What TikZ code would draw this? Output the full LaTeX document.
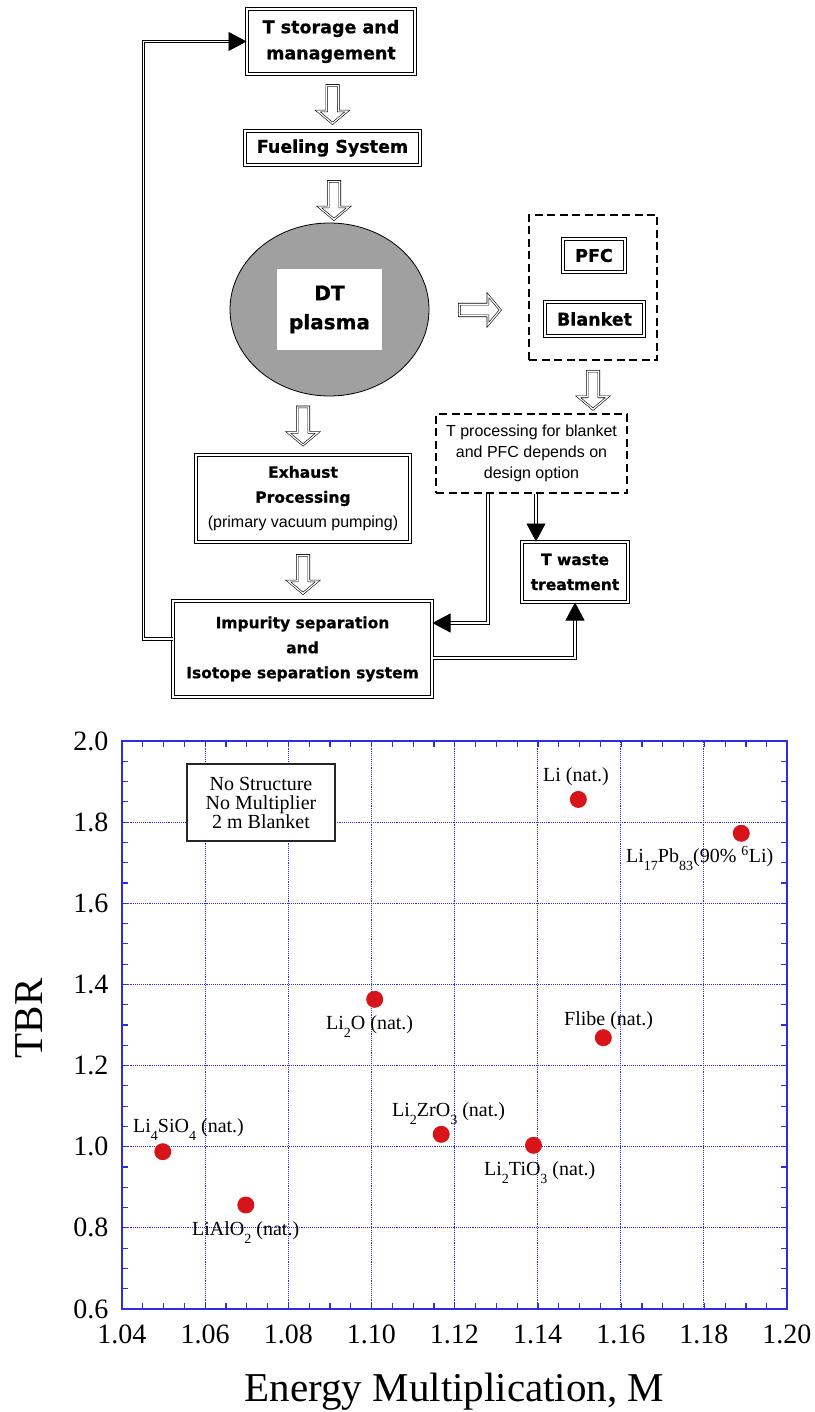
\documentclass[tikz,border=0pt]{standalone}
\usepackage{fontspec}
\setmainfont{Liberation Serif}
\newfontfamily\boxfont{DejaVu Sans}[BoldFeatures={FakeBold=0.8}]
\newfontfamily\armfont{Liberation Sans}
\usetikzlibrary{shapes.geometric,shapes.arrows,arrows.meta,calc,positioning}

\tikzstyle{block} = [draw, double, line width=1pt, double distance=2pt, align=center, inner sep=0pt, font=\boxfont\bfseries\fontsize{17.5}{26}\selectfont]
\tikzstyle{smallblock} = [block, font=\boxfont\bfseries\fontsize{15.5}{25}\selectfont]
\tikzstyle{dashblock} = [draw, dash pattern=on 8pt off 4.5pt, line width=1.6pt, align=center, inner sep=0pt]
\tikzstyle{hollow} = [single arrow, draw, double, line width=0.6pt, double distance=1.2pt, fill=white, inner sep=5.5pt, minimum height=38pt, single arrow head extend=9pt, single arrow tip angle=100]
\tikzstyle{link} = [draw, double, line width=0.8pt, double distance=1.8pt]
\tikzstyle{tip} = [-{Triangle[length=18pt,width=19pt]}]
\tikzstyle{gridline} = [draw=gridblue, densely dotted, line width=0.9pt]
\tikzstyle{axisline} = [draw=gridblue, line width=1.8pt]
\tikzstyle{tick} = [draw=gridblue, line width=1.2pt]
\tikzstyle{ticklabel} = [inner sep=0pt, font=\fontsize{28}{32}\selectfont]
\tikzstyle{axistitle} = [inner sep=0pt, font=\fontsize{41}{46}\selectfont]
\tikzstyle{dot} = [circle, fill=dotred, minimum size=17pt, inner sep=0pt]
\tikzstyle{dotlabel} = [inner sep=0pt, anchor=base west, font=\fontsize{20}{24}\selectfont]
\definecolor{plasmagray}{RGB}{160,160,160}
\definecolor{gridblue}{RGB}{45,45,230}
\definecolor{dotred}{RGB}{215,20,25}
\newcommand{\lsub}[1]{\raisebox{-8pt}{\fontsize{14}{14}\selectfont #1}}

\begin{document}
\begin{tikzpicture}[x=1pt, y=-1pt]
	\useasboundingbox (0,0) rectangle (814,1412);

	% tritium loop
	\node [block, minimum width=168pt, minimum height=65pt] (tstore) at (331,41.5) {T storage and\\management};
	\node [block, minimum width=175pt, minimum height=34pt] (fuel) at (332.5,148) {Fueling System};
	\node [ellipse, draw, fill=plasmagray, line width=0.8pt, minimum width=199pt, minimum height=173pt] (plasma) at (329.5,309.5) {};
	\node [fill=white, minimum width=105pt, minimum height=80pt, align=center, font=\boxfont\bfseries\fontsize{20}{29}\selectfont] (dt) at (plasma.center) {DT\\plasma};
	\node [smallblock, minimum width=214pt, minimum height=87pt] (exhaust) at (303,498.5) {Exhaust\\Processing\\{\armfont\mdseries\fontsize{16}{23}\selectfont (primary vacuum pumping)}};
	\node [smallblock, minimum width=259pt, minimum height=96pt] (impurity) at (302.5,649) {Impurity separation\\and\\Isotope separation system};

	% components
	\node [dashblock, minimum width=128pt, minimum height=145pt] (comp) at (593,287.5) {};
	\node [block, minimum width=62pt, minimum height=33pt] (pfc) at (594,255.5) {PFC};
	\node [block, minimum width=99pt, minimum height=34pt] (blanket) at (594.5,319) {Blanket};
	\node [dashblock, line width=1.4pt, minimum width=191pt, minimum height=79pt, font=\armfont\fontsize{16}{20.7}\selectfont] (tproc) at (531.5,453.5) {T processing for blanket\\and PFC depends on\\design option};
	\node [smallblock, minimum width=106pt, minimum height=60pt] (twaste) at (575,572) {T waste\\treatment};

	% hollow arrows
	\node [hollow, rotate=-90] (a1) at ($(fuel.north)+(0,-28.5)$) {};
	\node [hollow, rotate=-90] (a2) at ($(fuel.south)+(1.5,32.5)$) {};
	\node [hollow, rotate=-90] (a3) at ($(exhaust.north)+(0,-31)$) {};
	\node [hollow, rotate=-90] (a4) at ($(exhaust.south)+(0,29.5)$) {};
	\node [hollow, minimum height=41pt] (a5) at ($(plasma.east)+(48,0.5)$) {};
	\node [hollow, rotate=-90] (a6) at ($(comp.south)+(0,27)$) {};

	% connectors
	\draw [link, tip] ([yshift=10pt]impurity.west) -- ++(-29,0) |- (tstore.west);
	\draw [link, tip] ([xshift=-43.5pt]tproc.south) |- ([yshift=26pt]impurity.east);
	\coordinate (tp) at ([xshift=4.5pt]tproc.south);
	\draw [link, tip] (tp) -- (tp |- twaste.north);
	\draw [link, tip] ([yshift=-9pt]impurity.east) -| (twaste.south);

	% TBR plot
	\begin{scope}[shift={(-4200.5pt,-1552.4pt)}, x=4156.25pt, y=405.7pt]
		\foreach \gx in {1.06,1.08,1.10,1.12,1.14,1.16,1.18}
			\draw [gridline] (\gx,0.6) -- (\gx,2.0);
		\foreach \gy in {0.8,1.0,1.2,1.4,1.6,1.8}
			\draw [gridline] (1.04,\gy) -- (1.20,\gy);
		\foreach \i in {1,...,31} {
			\draw [tick] (1.04+0.005*\i,0.6) -- ++(0,6pt);
			\draw [tick] (1.04+0.005*\i,2.0) -- ++(0,-6pt);
		}
		\foreach \i in {1,...,27} {
			\draw [tick] (1.04,0.6+0.05*\i) -- ++(6pt,0);
			\draw [tick] (1.20,0.6+0.05*\i) -- ++(-6pt,0);
		}
		\draw [axisline] (1.04,0.6) rectangle (1.20,2.0);

		\foreach \yl [count=\k] in {0.6,0.8,1.0,1.2,1.4,1.6,1.8,2.0}
			\node [ticklabel, anchor=east, xshift=-13.5pt] (ylab\k) at (1.04,\yl) {\yl};
		\foreach \xl [count=\k] in {1.04,1.06,1.08,1.10,1.12,1.14,1.16,1.18,1.20}
			\node [ticklabel, anchor=north, yshift=-16pt] (xlab\k) at (\xl,0.6) {\xl};

		\node [dot] (li) at (1.1498,1.856) {};
		\node [dot] (lipb) at (1.189,1.7725) {};
		\node [dot] (flibe) at (1.1558,1.2687) {};
		\node [dot] (lio) at (1.1008,1.3633) {};
		\node [dot] (lisio) at (1.0498,0.9877) {};
		\node [dot] (lialo) at (1.0698,0.8563) {};
		\node [dot] (lizro) at (1.1168,1.0306) {};
		\node [dot] (litio) at (1.139,1.0034) {};
	\end{scope}

	\node [draw=black!85, fill=white, line width=1.3pt, minimum width=148pt, minimum height=77pt, align=center, font=\fontsize{20}{19}\selectfont] (note) at (261,802.5) {No Structure\\No Multiplier\\2 m Blanket};

	\node [dotlabel] (li_lab) at (543,781) {Li (nat.)};
	\node [dotlabel] (lipb_lab) at (626,862.7) {Li\lsub{17}Pb\lsub{83}(90\% \textsuperscript{6}Li)};
	\node [dotlabel] (flibe_lab) at (564,1025) {Flibe (nat.)};
	\node [dotlabel] (lio_lab) at (326,1029) {Li\lsub{2}O (nat.)};
	\node [dotlabel] (lisio_lab) at (133,1132.7) {Li\lsub{4}SiO\lsub{4} (nat.)};
	\node [dotlabel] (lialo_lab) at (192,1235) {LiAlO\lsub{2} (nat.)};
	\node [dotlabel] (lizro_lab) at (392,1116.7) {Li\lsub{2}ZrO\lsub{3} (nat.)};
	\node [dotlabel] (litio_lab) at (484,1175) {Li\lsub{2}TiO\lsub{3} (nat.)};

	\node [axistitle, rotate=90] (tbr) at (29,1018.5) {TBR};
	\node [axistitle, anchor=base] (mlabel) at (454.5,1401) {Energy Multiplication, M};
\end{tikzpicture}
\end{document}
